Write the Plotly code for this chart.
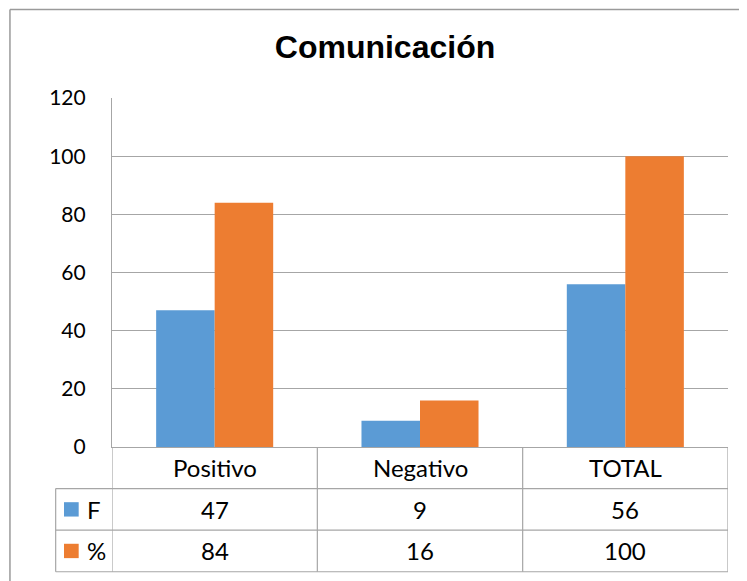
import plotly.graph_objects as go

### datos ###
categorias = ["Positivo", "Negativo", "TOTAL"]
serie_f = [47, 9, 56]
serie_pct = [84, 16, 100]
nombres = ["F", "%"]
titulo = "Comunicación"

AZUL = "#5B9BD5"
NARANJA = "#ED7D31"
GRIS = "#A6A6A6"
FUENTE = "Lato, 'Open Sans', sans-serif"

# the page body adds an 8px margin, so the figure is drawn 8px smaller
# and every reference pixel is shifted by OFF
OFF = 8
W, H = 747 - OFF, 581 - OFF
L, R, T = 112 - OFF, 19.3, 97.5 - OFF
B = H - (447.5 - OFF)
PLOT_W = W - L - R
PLOT_H = H - T - B
ROW = 41.7        # height of each table row
LEG_LEFT = 55.7   # left edge of the legend column (reference px)


def py(px_below):
    # pixels below the x axis -> paper y
    return -px_below / PLOT_H


def px(ref_x):
    # reference pixel x -> paper x
    return (ref_x - OFF - L) / PLOT_W


def py_abs(ref_y):
    # reference pixel y -> paper y
    return 1 - (ref_y - OFF - T) / PLOT_H


fig = go.Figure()
fig.add_trace(go.Bar(x=categorias, y=serie_f, name=nombres[0],
                     marker=dict(color=AZUL, line=dict(width=0))))
fig.add_trace(go.Bar(x=categorias, y=serie_pct, name=nombres[1],
                     marker=dict(color=NARANJA, line=dict(width=0))))

shapes = []
# outer chart border (top + left only, the rest is cropped)
top_y = py_abs(OFF + 0.8)
shapes.append(dict(type="line", xref="paper", yref="paper",
                   x0=px(10), x1=px(747 + 20), y0=top_y, y1=top_y,
                   line=dict(color="#9A9A9A", width=1.5)))
shapes.append(dict(type="line", xref="paper", yref="paper",
                   x0=px(10), x1=px(10), y0=top_y, y1=py_abs(600),
                   line=dict(color="#9A9A9A", width=1.5)))

# table horizontal lines
for k in (1, 2, 3):
    shapes.append(dict(type="line", xref="paper", yref="paper",
                       x0=px(LEG_LEFT), x1=1, y0=py(k * ROW), y1=py(k * ROW),
                       line=dict(color=GRIS, width=1.2)))
# table vertical lines at category boundaries
for xb in [i - 0.5 for i in range(len(categorias) + 1)]:
    shapes.append(dict(type="line", xref="x", yref="paper",
                       x0=xb, x1=xb, y0=0, y1=py(3 * ROW),
                       line=dict(color=GRIS, width=1.2)))
# legend column left edge
shapes.append(dict(type="line", xref="paper", yref="paper",
                   x0=px(LEG_LEFT), x1=px(LEG_LEFT), y0=py(ROW), y1=py(3 * ROW),
                   line=dict(color=GRIS, width=1.2)))

annotations = []
fnt = dict(family=FUENTE, size=24, color="#000000")
for i, cat in enumerate(categorias):
    for fila, texto in enumerate([cat, str(serie_f[i]), str(serie_pct[i])]):
        annotations.append(dict(x=cat, y=py((0.5 + fila) * ROW), xref="x", yref="paper",
                                xanchor="center", yanchor="middle",
                                text=texto, showarrow=False, font=fnt))

# legend keys inside the table
for k, (nombre, color) in enumerate(zip(nombres, [AZUL, NARANJA])):
    yc = py((1.5 + k) * ROW)
    half = 7.2 / PLOT_H
    shapes.append(dict(type="rect", xref="paper", yref="paper",
                       x0=px(64), x1=px(78.7), y0=yc - half, y1=yc + half,
                       fillcolor=color, line=dict(width=0)))
    annotations.append(dict(x=px(85), y=yc, xref="paper", yref="paper",
                            xanchor="left", yanchor="middle",
                            text=nombre, showarrow=False, font=fnt))

fig.update_layout(
    width=W, height=H,
    margin=dict(l=L, r=R, t=T, b=B, pad=0),
    paper_bgcolor="white", plot_bgcolor="white",
    barmode="group", bargap=0.43, bargroupgap=0,
    showlegend=False,
    title=dict(text="<b>" + titulo + "</b>", x=(385 - OFF) / W, xanchor="center",
               y=1 - (47 - OFF) / H, yanchor="middle",
               font=dict(family="Liberation Sans, Arial", size=32, color="#000000")),
    xaxis=dict(showticklabels=False, showline=True, linecolor=GRIS, linewidth=1.2,
               showgrid=False, range=[-0.5, 2.5], fixedrange=True),
    yaxis=dict(range=[0, 120], dtick=20, showgrid=True, gridcolor=GRIS, gridwidth=1.2,
               showline=True, linecolor=GRIS, linewidth=1.2, zeroline=False,
               ticks="", ticklabelstandoff=21,
               tickfont=dict(family=FUENTE, size=21, color="#000000")),
    shapes=shapes, annotations=annotations,
)

fig.write_html("out.html")
